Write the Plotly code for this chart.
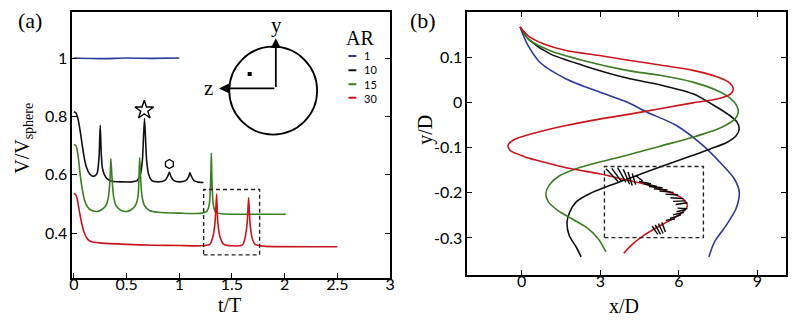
import plotly.graph_objects as go

# ---------------- Panel (a): V/V_sphere vs t/T ----------------
blue_t = [0.0, 0.25, 0.5, 0.75, 1.0]
blue_v = [1.0, 0.998, 1.0, 0.999, 1.0]

black_t = [0.0, 0.02, 0.04, 0.06, 0.08, 0.10, 0.12, 0.15, 0.18, 0.20, 0.22, 0.23, 0.24, 0.25, 0.26,
           0.27, 0.29, 0.32, 0.36, 0.45, 0.55, 0.60, 0.63, 0.65, 0.67, 0.69, 0.71, 0.74, 0.80, 0.86,
           0.89, 0.906, 0.92, 0.95, 1.00, 1.06, 1.09, 1.10, 1.115, 1.14, 1.18, 1.23]
black_v = [0.816, 0.812, 0.79, 0.75, 0.70, 0.655, 0.625, 0.603, 0.595, 0.597, 0.605, 0.625, 0.67, 0.77, 0.67,
           0.625, 0.60, 0.585, 0.578, 0.576, 0.576, 0.58, 0.60, 0.65, 0.793, 0.65, 0.60, 0.58, 0.576, 0.58,
           0.595, 0.61, 0.595, 0.58, 0.576, 0.58, 0.595, 0.608, 0.595, 0.58, 0.575, 0.574]

green_t = [0.0, 0.02, 0.04, 0.06, 0.08, 0.10, 0.13, 0.17, 0.23, 0.28, 0.31, 0.33, 0.345, 0.351, 0.36,
           0.375, 0.40, 0.45, 0.51, 0.56, 0.59, 0.61, 0.618, 0.624, 0.632, 0.645, 0.67, 0.72, 0.80,
           1.00, 1.20, 1.26, 1.285, 1.298, 1.304, 1.31, 1.322, 1.345, 1.40, 2.01]
green_v = [0.704, 0.70, 0.665, 0.60, 0.55, 0.515, 0.49, 0.478, 0.475, 0.485, 0.50, 0.53, 0.60, 0.656, 0.60,
           0.53, 0.495, 0.478, 0.475, 0.485, 0.50, 0.53, 0.60, 0.659, 0.60, 0.53, 0.495, 0.477, 0.472,
           0.469, 0.468, 0.475, 0.50, 0.58, 0.675, 0.58, 0.50, 0.472, 0.467, 0.465]

red_t = [0.0, 0.015, 0.03, 0.045, 0.06, 0.08, 0.10, 0.13, 0.16, 0.25, 0.50, 0.75, 1.00, 1.20, 1.29,
         1.32, 1.34, 1.354, 1.365, 1.385, 1.42, 1.50, 1.60, 1.625, 1.645, 1.658, 1.67, 1.69, 1.72,
         1.80, 2.50]
red_v = [0.536, 0.533, 0.52, 0.49, 0.46, 0.425, 0.40, 0.38, 0.372, 0.367, 0.362, 0.359, 0.358, 0.357, 0.362,
         0.39, 0.44, 0.534, 0.44, 0.39, 0.363, 0.357, 0.36, 0.385, 0.44, 0.522, 0.44, 0.385, 0.362,
         0.356, 0.354]

star_pt = (0.668, 0.822)
hex_pt = (0.906, 0.637)

# ---------------- Panel (b): y/D vs x/D trajectories ----------------
blue_x = [-0.06, 0.05, 0.25, 0.69, 1.70, 2.97, 4.02, 4.77, 5.91, 6.92, 7.68, 8.12, 8.31, 8.19, 7.81, 7.36, 7.15]
blue_y = [0.167, 0.150, 0.125, 0.089, 0.052, 0.023, 0.001, -0.021, -0.051, -0.095, -0.139, -0.169, -0.198,
          -0.235, -0.272, -0.309, -0.342]

black_x = [-0.06, 0.05, 0.30, 1.07, 2.34, 4.02, 5.28, 6.54, 7.30, 7.90, 8.22, 8.31, 8.20, 7.85, 7.20, 6.54,
           5.28, 4.02, 3.22, 2.59, 2.08, 1.83, 1.73, 1.81, 2.08, 2.27]
black_y = [0.167, 0.155, 0.138, 0.108, 0.082, 0.054, 0.039, 0.019, -0.005, -0.027, -0.043, -0.058, -0.073,
           -0.088, -0.103, -0.117, -0.143, -0.170, -0.187, -0.202, -0.220, -0.243, -0.265, -0.294, -0.320,
           -0.342]

green_x = [-0.06, 0.05, 0.25, 1.07, 2.34, 4.02, 5.28, 6.54, 7.40, 7.95, 8.22, 8.27, 8.12, 7.60, 6.54,
           5.28, 4.02, 2.97, 2.08, 1.40, 1.05, 0.92, 1.02, 1.40, 1.90, 2.46, 2.90, 3.22]
green_y = [0.167, 0.157, 0.140, 0.115, 0.093, 0.071, 0.060, 0.045, 0.028, 0.010, -0.008, -0.023, -0.038,
           -0.056, -0.077, -0.097, -0.117, -0.132, -0.147, -0.164, -0.183, -0.202, -0.220, -0.240, -0.257,
           -0.276, -0.300, -0.331]

red_x = [-0.06, 0.05, 0.30, 0.82, 1.70, 2.97, 4.02, 5.28, 6.54, 7.40, 7.90, 8.08, 7.98, 7.50, 6.54, 5.28,
         4.02, 2.97, 1.70, 0.60, -0.20, -0.52, -0.45, 0.10, 0.90, 1.90, 2.97, 4.02, 4.65, 5.28, 5.91, 6.22,
         6.33, 6.20, 5.85, 5.28, 4.65, 4.15, 3.90]
red_y = [0.167, 0.159, 0.145, 0.130, 0.115, 0.104, 0.094, 0.083, 0.071, 0.058, 0.045, 0.031, 0.019, 0.008,
         -0.001, -0.014, -0.027, -0.037, -0.051, -0.066, -0.080, -0.094, -0.106, -0.120, -0.133, -0.147,
         -0.158, -0.172, -0.180, -0.191, -0.205, -0.217, -0.228, -0.240, -0.255, -0.273, -0.295, -0.318,
         -0.334]

# orientation "hairs" along the red path inside the dashed box (start/end points)
hair_x0 = [3.22, 3.44, 3.66, 3.88, 4.06, 4.22, 4.36, 4.48, 4.67, 4.86, 5.05, 5.26, 5.49, 5.68, 5.78,
           5.88, 5.95, 5.91, 5.78, 5.66, 4.98, 5.10, 5.22, 5.35, 5.50]
hair_y0 = [-0.147, -0.146, -0.144, -0.148, -0.154, -0.157, -0.162, -0.175, -0.180, -0.186, -0.191,
           -0.196, -0.203, -0.211, -0.219, -0.226, -0.234, -0.242, -0.249, -0.257, -0.274, -0.271,
           -0.268, -0.265, -0.261]
hair_x1 = [3.68, 3.82, 3.98, 4.12, 4.22, 4.35, 4.62, 4.94, 5.17, 5.38, 5.57, 5.80, 5.97, 6.18, 6.26,
           6.33, 6.33, 6.28, 6.20, 6.08, 5.20, 5.30, 5.40, 5.49, 5.85]
hair_y1 = [-0.175, -0.176, -0.177, -0.181, -0.184, -0.182, -0.174, -0.180, -0.186, -0.189, -0.194,
           -0.199, -0.205, -0.213, -0.218, -0.222, -0.235, -0.237, -0.243, -0.249, -0.292, -0.292,
           -0.290, -0.287, -0.258]

AR_LABELS = ["1", "10", "15", "30"]
COLORS = ["#2b3a9b", "#111111", "#3b7d23", "#c8161d"]

# ---------------- figure ----------------
fig = go.Figure()
LW = 1.6

for t, v, c in [(blue_t, blue_v, COLORS[0]), (black_t, black_v, COLORS[1]),
                (green_t, green_v, COLORS[2]), (red_t, red_v, COLORS[3])]:
    fig.add_trace(go.Scatter(x=t, y=v, mode="lines", line=dict(color=c, width=LW, shape="spline", smoothing=0.6),
                             xaxis="x", yaxis="y", showlegend=False, hoverinfo="skip"))

fig.add_trace(go.Scatter(x=[star_pt[0]], y=[star_pt[1]], mode="markers",
                         marker=dict(symbol="star-open", size=14, color="black", line=dict(width=1.4)),
                         xaxis="x", yaxis="y", showlegend=False))
fig.add_trace(go.Scatter(x=[hex_pt[0]], y=[hex_pt[1]], mode="markers",
                         marker=dict(symbol="hexagon-open", size=9, color="black", line=dict(width=1.3)),
                         xaxis="x", yaxis="y", showlegend=False))
# small square inside inset
fig.add_trace(go.Scatter(x=[1.668], y=[0.945], mode="markers",
                         marker=dict(symbol="square", size=4, color="black"),
                         xaxis="x", yaxis="y", showlegend=False))

for xx, yy, c in [(blue_x, blue_y, COLORS[0]), (black_x, black_y, COLORS[1]),
                  (green_x, green_y, COLORS[2]), (red_x, red_y, COLORS[3])]:
    fig.add_trace(go.Scatter(x=xx, y=yy, mode="lines", line=dict(color=c, width=LW, shape="spline", smoothing=0.8),
                             xaxis="x2", yaxis="y2", showlegend=False, hoverinfo="skip"))

hx, hy = [], []
for a, b, c, d in zip(hair_x0, hair_y0, hair_x1, hair_y1):
    hx += [a, c, None]
    hy += [b, d, None]
fig.add_trace(go.Scatter(x=hx, y=hy, mode="lines", line=dict(color="black", width=1.4),
                         xaxis="x2", yaxis="y2", showlegend=False, hoverinfo="skip"))

shapes = []
# dashed boxes
shapes.append(dict(type="rect", xref="x", yref="y", x0=1.231, x1=1.762, y0=0.326, y1=0.55,
                   line=dict(color="#222", width=1.4, dash="4px,3px")))
shapes.append(dict(type="rect", xref="x2", yref="y2", x0=3.16, x1=6.94, y0=-0.2993, y1=-0.1417,
                   line=dict(color="#222", width=1.4, dash="4px,3px")))
# inset circle
shapes.append(dict(type="circle", xref="x", yref="y", x0=1.474, x1=2.308, y0=0.738, y1=1.039,
                   line=dict(color="black", width=1.8)))
# legend line samples
leg_v = [1.007, 0.958, 0.910, 0.864]
for v, c in zip(leg_v, COLORS):
    shapes.append(dict(type="line", xref="x", yref="y", x0=2.605, x1=2.68, y0=v, y1=v,
                       line=dict(color=c, width=2)))

SERIF = "Liberation Serif"
SANS = "Lato"
ann = []


def txt(x, y, text, size, family=SERIF, xref="paper", yref="paper", angle=0, xanchor="center"):
    return dict(x=x, y=y, xref=xref, yref=yref, text=text, showarrow=False, textangle=angle,
                xanchor=xanchor, yanchor="middle", font=dict(family=family, size=size, color="black"))


# inset arrows
ann.append(dict(x=1.916, y=1.068, ax=1.916, ay=0.896, xref="x", yref="y", axref="x", ayref="y",
                showarrow=True, arrowhead=2, arrowsize=1.1, arrowwidth=1.8, arrowcolor="black", text=""))
ann.append(dict(x=1.377, y=0.896, ax=1.916, ay=0.896, xref="x", yref="y", axref="x", ayref="y",
                showarrow=True, arrowhead=2, arrowsize=1.1, arrowwidth=1.8, arrowcolor="black", text=""))
ann.append(txt(1.92, 1.113, "y", 21, xref="x", yref="y"))
ann.append(txt(1.279, 0.897, "z", 21, xref="x", yref="y"))
# legend text (one multi-line block)
ann.append(txt(2.717, 1.068, "AR", 20, xref="x", yref="y"))
leg_anchor = dict(x=2.736, y=sum(leg_v) / len(leg_v), xref="x", yref="y", text="<br>".join(AR_LABELS),
                  showarrow=False, xanchor="left", yanchor="middle", align="left",
                  font=dict(family=SANS, size=11, color="black"))
ann.append(leg_anchor)
# panel labels & axis titles
ann.append(txt(27 / 800, 1 - 20 / 323, "(a)", 22))
ann.append(txt(424 / 800, 1 - 20 / 323, "(b)", 22))
ann.append(txt(229 / 800, 1 - 305 / 323, "t/T", 20))
ann.append(txt(627 / 800, 1 - 306 / 323, "x/D", 20))
ann.append(txt(20 / 800, 1 - 138 / 323, "V/V<sub>sphere</sub>", 20, angle=-90))
ann.append(txt(426 / 800, 1 - 130 / 323, "y/D", 20, angle=-90))

axis_common = dict(showline=True, linecolor="black", linewidth=1.6, ticks="inside", ticklen=5,
                   tickwidth=1.4, tickcolor="black", showgrid=False, zeroline=False,
                   tickfont=dict(family=SANS, size=16, color="black"))

fig.update_layout(
    width=800, height=323, margin=dict(l=0, r=0, t=0, b=0),
    paper_bgcolor="white", plot_bgcolor="white", showlegend=False,
    xaxis=dict(domain=[70 / 800, 391 / 800], range=[-0.015, 3.0], tickmode="array",
               tickvals=[0, 0.5, 1, 1.5, 2, 2.5, 3], ticktext=["0", "0.5", "1", "1.5", "2", "2.5", "3"],
               mirror=True, anchor="y", ticklabelstandoff=-9, **axis_common),
    yaxis=dict(domain=[1 - 277.7 / 323, 1 - 12 / 323], range=[0.2478, 1.1577], tickmode="array",
               tickvals=[0.4, 0.6, 0.8, 1.0], ticktext=["0.4", "0.6", "0.8", "1"],
               mirror="ticks", anchor="x", **axis_common),
    xaxis2=dict(domain=[469 / 800, 791 / 800], range=[-2.08, 10.1], tickmode="array",
                tickvals=[0, 3, 6, 9], ticktext=["0", "3", "6", "9"],
                mirror="ticks", anchor="y2", ticklabelstandoff=-9, **axis_common),
    yaxis2=dict(domain=[1 - 275 / 323, 1 - 12 / 323], range=[-0.382, 0.2002], tickmode="array",
                tickvals=[-0.3, -0.2, -0.1, 0, 0.1], ticktext=["-0.3", "-0.2", "-0.1", "0", "0.1"],
                mirror="ticks", anchor="x2", **axis_common),
    shapes=shapes, annotations=ann,
)

fig.write_html("out.html", config={"displayModeBar": False},
               post_script="document.body.style.margin='0';document.body.style.overflow='hidden';")
